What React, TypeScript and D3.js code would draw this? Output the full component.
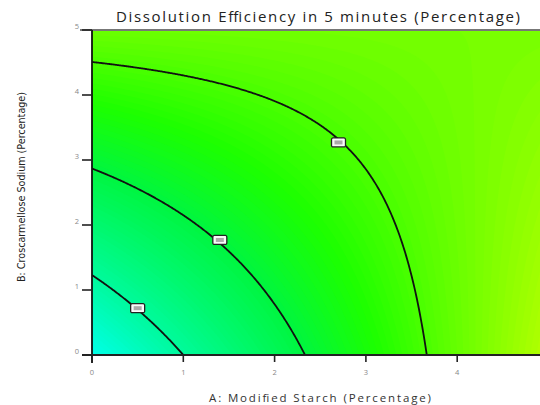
import React from "react"
import * as d3 from "d3"

// response surface: DE5 = b0 + bA*A + bB*B + bAB*A*B
const coefNames = ["b0", "bA", "bB", "bAB"]
const coefValues = [42.5, 7.5, 6.1, -1.45]
const contourLevels = [50, 60, 70]
// where the small flag boxes sit on each contour (A, B)
const labelA = [0.5, 1.4, 2.7]
const labelB = [0.72, 1.77, 3.27]
const xTicks = [0, 1, 2, 3, 4]
const yTicks = [0, 1, 2, 3, 4, 5]
const colorStops = [42, 50, 60, 66, 72, 80]
const colorRange = ["#00ffee", "#00fa9c", "#00f640", "#1cff00", "#60ff00", "#b8ff00"]

const W = 540
const H = 405
const margin = { top: 30, left: 92, bottom: 50 }

const coef: Record<string, number> = {}
coefNames.forEach((n, i) => (coef[n] = coefValues[i]))
const model = (a: number, b: number) => coef.b0 + coef.bA * a + coef.bB * b + coef.bAB * a * b

export default function App() {
  const x = d3.scaleLinear().domain([0, 5]).range([margin.left, margin.left + 5 * 91.3])
  const y = d3.scaleLinear().domain([0, 5]).range([H - margin.bottom, margin.top])
  const color = d3.scaleLinear<string>().domain(colorStops).range(colorRange).clamp(true)

  // background fill from fine contour bands
  const nx = 240, ny = 170
  const values: number[] = new Array(nx * ny)
  for (let j = 0; j < ny; j++) {
    for (let i = 0; i < nx; i++) {
      const a = ((i + 0.5) / nx) * 5
      const b = 5 - ((j + 0.5) / ny) * 5
      values[j * nx + i] = model(a, b)
    }
  }
  const thresholds = d3.range(38, 84, 0.5)
  const bands = d3.contours().size([nx, ny]).thresholds(thresholds)(values)
  const proj = d3.geoTransform({
    point: function (px: number, py: number) {
      this.stream.point(x((px / nx) * 5), y(5 - (py / ny) * 5))
    },
  })
  const bandPath = d3.geoPath(proj)

  // contour lines: B solved from the model for each A
  const line = d3.line<[number, number]>().x(d => x(d[0])).y(d => y(d[1]))
  const contourLines = contourLevels.map(L => {
    const pts: [number, number][] = []
    for (const a of d3.range(0, 5.001, 0.01)) {
      const b = (L - coef.b0 - coef.bA * a) / (coef.bB + coef.bAB * a)
      if (b < 0) {
        // finish exactly at the B=0 edge
        const a0 = (L - coef.b0) / coef.bA
        pts.push([a0, 0])
        break
      }
      if (b <= 5) pts.push([a, b])
    }
    return pts
  })

  const font = "'Open Sans', 'DejaVu Sans', sans-serif"

  return (
    <svg width={W} height={H} style={{ position: "absolute", left: 0, top: 0, background: "#fff" }}>
      <defs>
        <clipPath id="plot">
          <rect x={x(0)} y={y(5)} width={x(5) - x(0)} height={y(0) - y(5)} />
        </clipPath>
      </defs>
      <g clipPath="url(#plot)">
        {bands.map((c, i) => (
          <path key={i} d={bandPath(c as any) || ""} fill={color(c.value + 0.25)} stroke="none" />
        ))}
        {contourLines.map((pts, i) => (
          <path key={i} d={line(pts) || ""} fill="none" stroke="#111" strokeWidth={1.8} />
        ))}
      </g>
      {labelA.map((a, i) => (
        <g key={i} transform={`translate(${x(a)},${y(labelB[i])})`}>
          <rect x={-7} y={-4.5} width={14} height={9} rx={1.5} fill="#fafafa" stroke="#222" strokeWidth={1.3} />
          <rect x={-4} y={-2} width={8} height={4} fill="#aaa" />
        </g>
      ))}
      {/* frame */}
      <line x1={x(0) - 12} x2={W} y1={y(5)} y2={y(5)} stroke="#777" strokeWidth={1.8} />
      <line x1={x(0)} x2={x(0)} y1={y(5)} y2={y(0) + 8} stroke="#111" strokeWidth={1.8} />
      <line x1={x(0) - 10} x2={W} y1={y(0)} y2={y(0)} stroke="#222" strokeWidth={1.8} />
      {xTicks.map(t => (
        <g key={t}>
          <line x1={x(t)} x2={x(t)} y1={y(0)} y2={y(0) + 7} stroke="#222" strokeWidth={1.6} />
          <text x={x(t)} y={y(0) + 20} textAnchor="middle" fontSize={7.5} fill="#888" fontFamily={font}>{t}</text>
        </g>
      ))}
      {yTicks.map(t => (
        <g key={t}>
          <line x1={x(0) - 10} x2={x(0)} y1={y(t)} y2={y(t)} stroke="#222" strokeWidth={1.6} />
          <text x={x(0) - 13} y={y(t) - 1} textAnchor="end" fontSize={7.5} fill="#888" fontFamily={font}>{t}</text>
        </g>
      ))}
      <text x={318} y={22} textAnchor="middle" fontSize={15} fill="#222" fontFamily={font}
        textLength={404} lengthAdjust="spacing">
        Dissolution Efficiency in 5 minutes (Percentage)
      </text>
      <text x={320} y={402} textAnchor="middle" fontSize={11.5} fill="#333" fontFamily={font}
        textLength={222} lengthAdjust="spacing">
        A: Modified Starch (Percentage)
      </text>
      <text transform="translate(25,187) rotate(-90)" textAnchor="middle" fontSize={11} fill="#222"
        fontFamily="'Liberation Sans Narrow', 'DejaVu Sans Condensed', sans-serif"
        textLength={190} lengthAdjust="spacingAndGlyphs">
        B: Croscarmellose Sodium (Percentage)
      </text>
    </svg>
  )
}
